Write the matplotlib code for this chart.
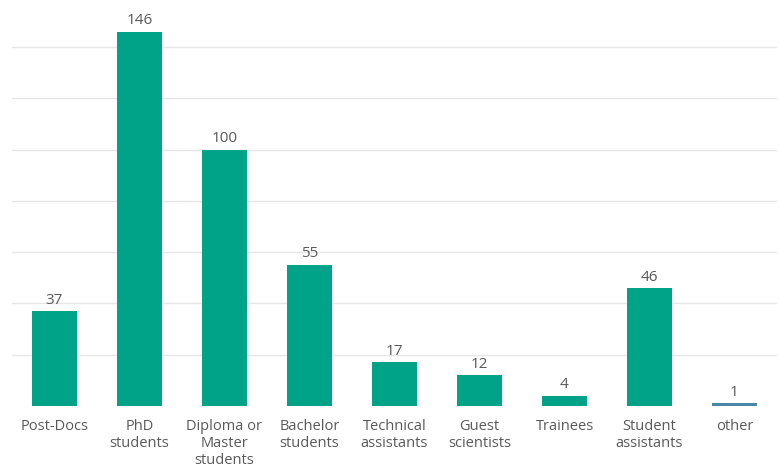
import matplotlib
matplotlib.use("Agg")
import matplotlib.pyplot as plt

categories = ["Post-Docs", "PhD\nstudents", "Diploma or\nMaster\nstudents", "Bachelor\nstudents",
              "Technical\nassistants", "Guest\nscientists", "Trainees", "Student\nassistants", "other"]
values = [37, 146, 100, 55, 17, 12, 4, 46, 1]
bar_colors = ["#00a387"] * 8 + ["#4a86a8"]

plt.rcParams['font.family'] = ['Open Sans', 'DejaVu Sans']
text_color = "#595959"

fig = plt.figure(figsize=(7.79, 4.75), dpi=100)
ax = fig.add_axes([12/779, (475-406)/475, 765/779, 406/475])

x = list(range(len(categories)))
ax.bar(x, values, width=0.53, color=bar_colors, zorder=2)
for xi, v in zip(x, values):
    ax.annotate(str(v), (xi, v), xytext=(0, 2.5), textcoords="offset points",
                ha="center", va="bottom", fontsize=11, color=text_color)

ax.set_xlim(-0.5, len(categories) - 0.5)
ax.set_ylim(0, 158.3)
ax.set_yticks(range(20, 141, 20))
ax.yaxis.grid(True, color="#e6e6e6", linewidth=1, zorder=0)
ax.tick_params(axis="y", left=False, labelleft=False)
ax.tick_params(axis="x", bottom=False, pad=5.5)
ax.set_xticks(x)
ax.set_xticklabels(categories, fontsize=10.5, color=text_color, linespacing=1.2, va="top")
for s in ax.spines.values():
    s.set_visible(False)

fig.savefig("out.png", dpi=100)
